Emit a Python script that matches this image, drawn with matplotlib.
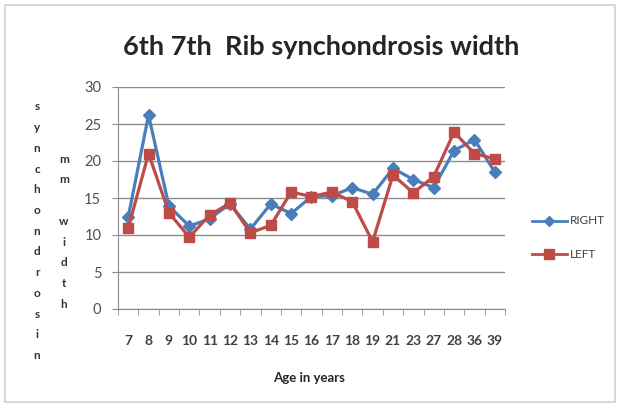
import matplotlib
matplotlib.use("Agg")
import matplotlib.pyplot as plt
import numpy as np
from matplotlib.patches import Rectangle
from matplotlib.lines import Line2D

ages = ["7", "8", "9", "10", "11", "12", "13", "14", "15", "16", "17", "18", "19",
        "21", "23", "27", "28", "36", "39"]
right = [12.4, 26.2, 13.9, 11.2, 12.2, 14.2, 10.8, 14.2, 12.9, 15.2, 15.3, 16.4, 15.5,
         19.0, 17.5, 16.4, 21.4, 22.9, 18.5]
left = [10.9, 21.0, 13.0, 9.7, 12.7, 14.3, 10.3, 11.3, 15.8, 15.2, 15.8, 14.5, 9.1,
        18.1, 15.7, 17.9, 23.9, 21.0, 20.3]
yticks = [0, 5, 10, 15, 20, 25, 30]

FONT = "Lato"
TXT = "#404040"
BLUE = "#4A7EBB"
RED = "#BE4B48"

fig = plt.figure(figsize=(6.2, 4.07), dpi=100)
fig.patch.set_facecolor("white")
fig.patches.append(Rectangle((0.008, 0.012), 0.984, 0.976, transform=fig.transFigure,
                             fill=False, edgecolor="#d0d0d0", linewidth=1.2))

ax = fig.add_axes([118/620, 1-309/407, (505-118)/620, (309-87)/407])
x = np.arange(len(ages))
ax.plot(x, right, color=BLUE, lw=2.3, marker="D", ms=6, mfc=BLUE, mec=BLUE, zorder=3)
ax.plot(x, left, color=RED, lw=2.3, marker="s", ms=7.5, mfc=RED, mec=RED, zorder=4)

ax.set_xlim(-0.5, len(ages)-0.5)
ax.set_ylim(0, 30)
ax.set_yticks(yticks)
ax.set_yticklabels([str(v) for v in yticks], fontsize=10.5, color="#505050", fontfamily=FONT)
ax.set_xticks(x)
ax.set_xticklabels(ages, fontsize=10, color=TXT, fontfamily=FONT, fontweight="bold")
ax.set_xticks(np.arange(-0.5, len(ages)), minor=True)
ax.tick_params(axis="x", which="major", length=0, pad=19)
ax.tick_params(axis="x", which="minor", length=4, color="#8c8c8c", direction="out")
ax.tick_params(axis="y", length=4, color="#8c8c8c", pad=8)
ax.grid(axis="y", color="#8c8c8c", lw=1)
ax.set_axisbelow(True)
for s in ["top", "right"]:
    ax.spines[s].set_visible(False)
for s in ["left", "bottom"]:
    ax.spines[s].set_color("#8c8c8c")

fig.text(321/620, 1-47/407, "6th 7th  Rib synchondrosis width", ha="center", va="center",
         fontsize=19.5, fontweight="bold", color="#262626", fontfamily=FONT)
fig.text(309/620, 1-378/407, "Age in years", ha="center", va="center",
         fontsize=9.5, fontweight="bold", color="#262626", fontfamily=FONT)

# stacked vertical axis labels
col1 = "synchondrosin"
y0, dy = 107, 20.7
for i, ch in enumerate(col1):
    fig.text(37/620, 1-(y0+i*dy)/407, ch, ha="center", va="center", fontsize=8.5,
             fontweight="bold", color="#333333", fontfamily=FONT)
col2 = "mm width"
y0b = 159
for i, ch in enumerate(col2):
    if ch == " ":
        continue
    fig.text(64/620, 1-(y0b+i*20.8)/407, ch, ha="center", va="center", fontsize=8.5,
             fontweight="bold", color="#333333", fontfamily=FONT)

# legend
for yy, col, mk, ms, lab in [(221, BLUE, "D", 5, "RIGHT"), (254, RED, "s", 7, "LEFT")]:
    fy = 1-yy/407
    fig.add_artist(Line2D([532/620, 567/620], [fy, fy], transform=fig.transFigure,
                          color=col, lw=2))
    fig.add_artist(Line2D([549/620], [fy], transform=fig.transFigure, color=col,
                          marker=mk, ms=ms, mfc=col, mec=col))
    fig.text(570/620, fy, lab, ha="left", va="center", fontsize=8.5, color=TXT,
             fontfamily=FONT)

fig.savefig("out.png", dpi=100)
